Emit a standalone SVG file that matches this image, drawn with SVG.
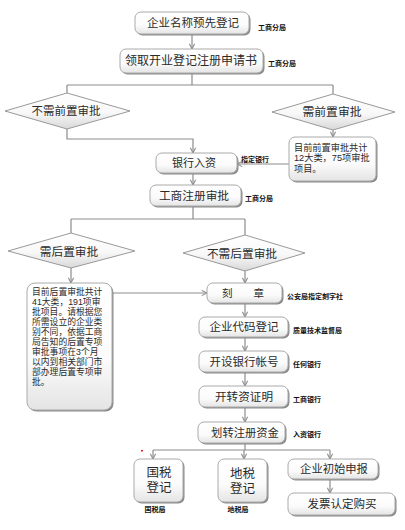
<svg xmlns="http://www.w3.org/2000/svg" width="405" height="530" viewBox="0 0 405 530">
<style>
.bx{fill:url(#gb);stroke:#aaa;stroke-width:1}
.sh{fill:#8a8a8a}
.dm{fill:url(#gd);stroke:#999;stroke-width:1}
.t{font-family:"Liberation Sans","Noto Sans CJK SC",sans-serif;fill:#2a2a2a;text-anchor:middle;dominant-baseline:central}
.n{font-family:"Liberation Sans","Noto Sans CJK SC",sans-serif;fill:#2a2a2a}
.lb{font-family:"Liberation Sans","Noto Sans CJK SC",sans-serif;fill:#111;font-weight:bold;font-size:7px;dominant-baseline:central}
.c{fill:none;stroke:#8c8c8c;stroke-width:1.2}
.a{marker-end:url(#ar)}
</style>
<defs>
<linearGradient id="gb" x1="0" y1="0" x2="0" y2="1"><stop offset="0" stop-color="#ffffff"/><stop offset="0.6" stop-color="#fbfbfb"/><stop offset="1" stop-color="#e4e4e4"/></linearGradient>
<linearGradient id="gd" x1="0" y1="0" x2="0" y2="1"><stop offset="0" stop-color="#ffffff"/><stop offset="0.55" stop-color="#f8f8f8"/><stop offset="1" stop-color="#d8d8d8"/></linearGradient>
<marker id="ar" viewBox="0 0 8 8" refX="7" refY="4" markerWidth="7" markerHeight="7" markerUnits="userSpaceOnUse" orient="auto"><path d="M1,1 L7,4 L1,7" fill="none" stroke="#8c8c8c" stroke-width="1.2"/></marker>
</defs>
<rect width="405" height="530" fill="#ffffff"/>

<g id="connectors">
<path class="c a" d="M192,34 V49"/>
<path class="c" d="M192,73 V85 M67,85 H333 M67,85 V93 M333,85 V94"/>
<path class="c a" d="M333,130 V137"/>
<path class="c a" d="M67,129 V139 H193 V153"/>
<path class="c a" d="M289,164 H237"/>
<path class="c a" d="M193,173 V185"/>
<path class="c" d="M193,206 V219 M71,219 H245 M71,219 V233 M245,219 V235"/>
<path class="c a" d="M71,268 V283"/>
<path class="c a" d="M245,271 V283"/>
<path class="c a" d="M112,293 H207"/>
<path class="c a" d="M245,303 V317"/>
<path class="c a" d="M245,337 V351"/>
<path class="c a" d="M245,372 V386"/>
<path class="c a" d="M245,407 V422"/>
<path class="c" d="M245,443 V450 M153,450 H330"/>
<path class="c a" d="M153,450 V459"/>
<path class="c a" d="M244,450 V459"/>
<path class="c a" d="M330,450 V459"/>
<path class="c a" d="M330,479 V493"/>
</g>

<g id="n1">
<rect class="sh" x="136.5" y="13.5" width="114" height="22" rx="6"/>
<rect class="bx" x="135" y="12" width="114" height="22" rx="6"/>
<text class="t" x="193" y="23" font-size="11.5">企业名称预先登记</text>
<text class="lb" x="258" y="27">工商分局</text>
</g>
<g id="n2">
<rect class="sh" x="121.5" y="50.5" width="143" height="24" rx="6"/>
<rect class="bx" x="120" y="49" width="143" height="24" rx="6"/>
<text class="t" x="191" y="61" font-size="12">领取开业登记注册申请书</text>
<text class="lb" x="268" y="63">工商分局</text>
</g>
<g id="d1">
<polygon class="dm" points="67,93 130,111 67,129 5,111"/>
<text class="t" x="66" y="111" font-size="11.5">不需前置审批</text>
</g>
<g id="d2">
<polygon class="dm" points="333,94 395,112 333,130 272,112"/>
<text class="t" x="332" y="112" font-size="11.8">需前置审批</text>
</g>
<g id="n3">
<rect class="sh" x="290.5" y="138.5" width="87" height="44" rx="6"/>
<rect class="bx" x="289" y="137" width="87" height="44" rx="6"/>
<text class="n" font-size="9.2"><tspan x="294" y="150.5">目前前置审批共计</tspan><tspan x="294" y="161">12大类，75项审批</tspan><tspan x="294" y="171.5">项目。</tspan></text>
</g>
<g id="n4">
<rect class="sh" x="157.5" y="154.5" width="81" height="20" rx="6"/>
<rect class="bx" x="156" y="153" width="81" height="20" rx="6"/>
<text class="t" x="194" y="163" font-size="11">银行入资</text>
<text class="lb" x="241" y="159">指定银行</text>
</g>
<g id="n5">
<rect class="sh" x="151.5" y="186.5" width="91" height="21" rx="6"/>
<rect class="bx" x="150" y="185" width="91" height="21" rx="6"/>
<text class="t" x="194" y="195.5" font-size="11.7">工商注册审批</text>
<text class="lb" x="245" y="198">工商分局</text>
</g>
<g id="d3">
<polygon class="dm" points="71,233 135,251 71,268 8,251"/>
<text class="t" x="69" y="251" font-size="11.7">需后置审批</text>
</g>
<g id="d4">
<polygon class="dm" points="245,235 305,253 245,271 183,253"/>
<text class="t" x="242" y="253" font-size="11.7">不需后置审批</text>
</g>
<g id="n6">
<rect class="sh" x="28.5" y="284.5" width="85" height="127" rx="8"/>
<rect class="bx" x="27" y="283" width="85" height="127" rx="8"/>
<text class="n" font-size="8.8"><tspan x="32" y="295">目前后置审批共计</tspan><tspan x="32" y="305">41大类，191项审</tspan><tspan x="32" y="315">批项目。请根据您</tspan><tspan x="32" y="325">所需设立的企业类</tspan><tspan x="32" y="335">别不同，依据工商</tspan><tspan x="32" y="345">局告知的后置专项</tspan><tspan x="32" y="355">审批事项在3个月</tspan><tspan x="32" y="365">以内到相关部门市</tspan><tspan x="32" y="375">部办理后置专项审</tspan><tspan x="32" y="385">批。</tspan></text>
</g>
<g id="n7">
<rect class="sh" x="208.5" y="284.5" width="75" height="20" rx="6"/>
<rect class="bx" x="207" y="283" width="75" height="20" rx="6"/>
<text class="t" x="243" y="293" font-size="10.5">刻　　章</text>
<text class="lb" x="287" y="296" font-size="7.5">公安局指定刻字社</text>
</g>
<g id="n8">
<rect class="sh" x="200.5" y="318.5" width="89" height="20" rx="6"/>
<rect class="bx" x="199" y="317" width="89" height="20" rx="6"/>
<text class="t" x="244" y="327" font-size="11.5">企业代码登记</text>
<text class="lb" x="293" y="330" font-size="7.5">质量技术监督局</text>
</g>
<g id="n9">
<rect class="sh" x="200.5" y="352.5" width="89" height="21" rx="6"/>
<rect class="bx" x="199" y="351" width="89" height="21" rx="6"/>
<text class="t" x="244" y="361.5" font-size="11.5">开设银行帐号</text>
<text class="lb" x="293" y="364" font-size="7.5">任何银行</text>
</g>
<g id="n10">
<rect class="sh" x="200.5" y="387.5" width="89" height="21" rx="6"/>
<rect class="bx" x="199" y="386" width="89" height="21" rx="6"/>
<text class="t" x="244" y="396.5" font-size="11.6">开转资证明</text>
<text class="lb" x="293" y="399" font-size="7.5">工商银行</text>
</g>
<g id="n11">
<rect class="sh" x="199.5" y="423.5" width="87" height="21" rx="6"/>
<rect class="bx" x="198" y="422" width="87" height="21" rx="6"/>
<text class="t" x="245" y="432.5" font-size="11.3">划转注册资金</text>
<text class="lb" x="293" y="434" font-size="7.5">入资银行</text>
</g>
<rect x="141" y="450" width="2" height="1.5" fill="#e02020"/>
<g id="n12">
<rect class="sh" x="135.5" y="460.5" width="49" height="43" rx="6"/>
<rect class="bx" x="134" y="459" width="49" height="43" rx="6"/>
<text class="t" x="159" y="473" font-size="12.5">国税</text>
<text class="t" x="159" y="488" font-size="12.5">登记</text>
<text class="lb" x="155" y="509" font-size="7.5" text-anchor="middle">国税局</text>
</g>
<g id="n13">
<rect class="sh" x="219.5" y="460.5" width="49" height="43" rx="6"/>
<rect class="bx" x="218" y="459" width="49" height="43" rx="6"/>
<text class="t" x="242.5" y="473.5" font-size="12.5">地税</text>
<text class="t" x="242.5" y="488.5" font-size="12.5">登记</text>
<text class="lb" x="238" y="509" font-size="7.5" text-anchor="middle">地税局</text>
</g>
<g id="n14">
<rect class="sh" x="289.5" y="460.5" width="90" height="20" rx="6"/>
<rect class="bx" x="288" y="459" width="90" height="20" rx="6"/>
<text class="t" x="334" y="469" font-size="11.3">企业初始申报</text>
</g>
<g id="n15">
<rect class="sh" x="289.5" y="494.5" width="107" height="22" rx="6"/>
<rect class="bx" x="288" y="493" width="107" height="22" rx="6"/>
<text class="t" x="342" y="504" font-size="11.5">发票认定购买</text>
</g>
</svg>
